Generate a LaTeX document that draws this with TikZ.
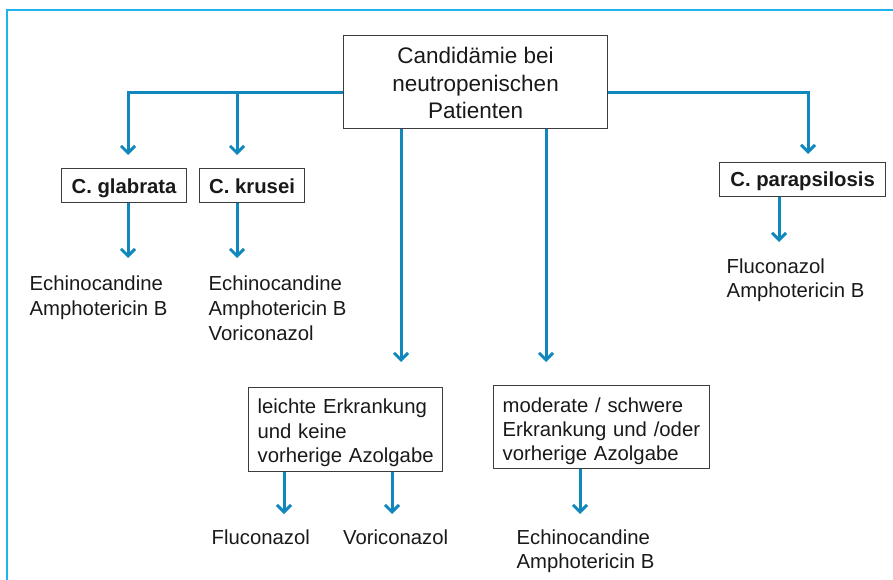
\documentclass[tikz,border=0pt]{standalone}
\usepackage{fontspec}
\setmainfont{Liberation Sans}
\usetikzlibrary{arrows.meta}
\definecolor{arrowblue}{RGB}{16,136,190}
\definecolor{framecyan}{RGB}{30,180,235}
\definecolor{boxgray}{RGB}{60,60,60}
\definecolor{txtblack}{RGB}{25,25,25}
\newcommand{\topstrut}[1]{\rule{0pt}{#1pt}}
\newcommand{\botstrut}[1]{\rule[-#1pt]{0pt}{#1pt}}
\tikzset{
  frameline/.style={draw=framecyan, line width=1.5pt},
  box/.style={draw=boxgray, line width=1.2pt, inner xsep=0pt, inner ysep=0pt, text=txtblack},
  species/.style={box, anchor=north west, font=\fontsize{20.3pt}{24pt}\bfseries\selectfont},
  condbox/.style={box, anchor=north west, align=left, inner xsep=9pt, font=\fontsize{20.3pt}{24.2pt}\selectfont},
  drug/.style={inner sep=0pt, anchor=north west, align=left, text=txtblack},
  arr/.style={draw=arrowblue, line width=3pt, -{Straight Barb[length=7pt,width=14pt]}},
}
\begin{document}
\begin{tikzpicture}[x=1pt,y=-1pt]
\useasboundingbox (0,0) rectangle (893,580);
% frame
\coordinate (fr1) at (893,10);
\coordinate (fr2) at (7,10);
\coordinate (fr3) at (7,580);
\draw[frameline] (fr1) -- (fr2) -- (fr3);

% main box
\node[box, anchor=north west, minimum width=264pt, align=center,
      font=\fontsize{22.5pt}{27.5pt}\selectfont] (main) at (343,35)
  {\topstrut{28.3}Candidämie bei\\neutropenischen\\Patienten\botstrut{9.7}};

% species
\node[species, minimum width=125pt] (glab) at (61,168) {\topstrut{24.7}C. glabrata\botstrut{9.3}};
\node[species, minimum width=105pt] (kru) at (199,168) {\topstrut{24.7}C. krusei\botstrut{9.3}};
\node[species, minimum width=166pt] (para) at (719,162) {\topstrut{24}C. parapsilosis\botstrut{10}};

% condition boxes
\node[condbox, text width=176pt] (lei) at (248,387)
  {\topstrut{26.3}\mbox{leichte Erkrankung}\\\mbox{und keine}\\\mbox{vorherige Azolgabe}\botstrut{9.3}};
\node[condbox, text width=198pt] (mod) at (493,385)
  {\topstrut{26.7}\mbox{moderate / schwere}\\\mbox{Erkrankung und /oder}\\\mbox{vorherige Azolgabe}\botstrut{8}};

% drug lists
\node[drug, font=\fontsize{20.3pt}{25pt}\selectfont] (gdrug) at (29.5,275)
  {\topstrut{15}Echinocandine\\Amphotericin B};
\node[drug, font=\fontsize{20.3pt}{25pt}\selectfont] (kdrug) at (208.5,275)
  {\topstrut{15}Echinocandine\\Amphotericin B\\Voriconazol};
\node[drug, font=\fontsize{20.3pt}{24pt}\selectfont] (pdrug) at (726.5,258)
  {\topstrut{15}Fluconazol\\Amphotericin B};
\node[drug, font=\fontsize{20.3pt}{24pt}\selectfont] (fluc) at (211.5,529)
  {\topstrut{15}Fluconazol};
\node[drug, font=\fontsize{20.3pt}{24pt}\selectfont] (vori) at (343,529)
  {\topstrut{15}Voriconazol};
\node[drug, font=\fontsize{20.3pt}{24pt}\selectfont] (edrug) at (516.5,529)
  {\topstrut{15}Echinocandine\\Amphotericin B};

% arrow end points
\coordinate (jy) at (0,93);
\coordinate (tg) at (128,155);
\coordinate (tk) at (237,155);
\coordinate (tp) at (808,154);
\coordinate (tl) at (401,362);
\coordinate (tm) at (546,362);
\coordinate (tg2) at (128,258);
\coordinate (tk2) at (237,258);
\coordinate (tp2) at (779,242);
\coordinate (tf) at (284,514);
\coordinate (tv) at (392,514);
\coordinate (te) at (580,514);

% connectors
\draw[arr] (main.west |- jy) -| (tg);
\draw[arr] (tk |- jy) -- (tk);
\draw[arr] (main.east |- jy) -| (tp);
\draw[arr] (main.south -| tl) -- (tl);
\draw[arr] (main.south -| tm) -- (tm);
\draw[arr] (glab.south -| tg2) -- (tg2);
\draw[arr] (kru.south -| tk2) -- (tk2);
\draw[arr] (para.south -| tp2) -- (tp2);
\draw[arr] (lei.south -| tf) -- (tf);
\draw[arr] (lei.south -| tv) -- (tv);
\draw[arr] (mod.south -| te) -- (te);
\end{tikzpicture}
\end{document}
